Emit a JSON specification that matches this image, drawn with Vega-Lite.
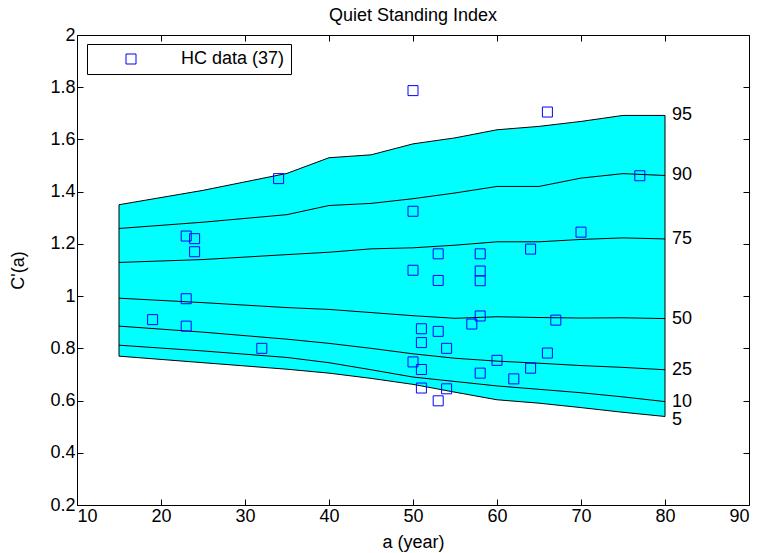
{
  "$schema": "https://vega.github.io/schema/vega-lite/v6.json",
  "width": 672,
  "height": 470,
  "autosize": "none",
  "padding": {"left": 77, "top": 35, "right": 11, "bottom": 48},
  "background": "white",
  "title": {"text": "Quiet Standing Index", "fontSize": 18, "fontWeight": "normal", "font": "Liberation Sans", "offset": 1, "color": "black"},
  "config": {
    "view": {"stroke": null},
    "font": "Liberation Sans",
    "axis": {"grid": false, "domainColor": "black", "tickColor": "black", "labelColor": "black", "titleColor": "black", "labelFont": "Liberation Sans", "titleFont": "Liberation Sans", "labelFontSize": 18, "titleFontSize": 18, "titleFontWeight": "normal", "tickSize": -6, "labelPadding": 8, "domainWidth": 1, "tickWidth": 1},
    "legend": {"orient": "none", "legendX": 10, "legendY": 9, "strokeColor": "black", "fillColor": "white", "padding": 6, "labelFontSize": 18, "labelFont": "Liberation Sans", "labelColor": "black", "symbolSize": 100, "symbolStrokeWidth": 1, "symbolOffset": 29, "labelOffset": 41}
  },
  "datasets": {
    "pct": [
      {"age": 15, "p": 5, "v": 0.770}, {"age": 25, "p": 5, "v": 0.745}, {"age": 35, "p": 5, "v": 0.720}, {"age": 40, "p": 5, "v": 0.705}, {"age": 45, "p": 5, "v": 0.685}, {"age": 50, "p": 5, "v": 0.662}, {"age": 55, "p": 5, "v": 0.632}, {"age": 60, "p": 5, "v": 0.603}, {"age": 65, "p": 5, "v": 0.590}, {"age": 70, "p": 5, "v": 0.573}, {"age": 75, "p": 5, "v": 0.555}, {"age": 80, "p": 5, "v": 0.539},
      {"age": 15, "p": 10, "v": 0.812}, {"age": 25, "p": 10, "v": 0.790}, {"age": 35, "p": 10, "v": 0.765}, {"age": 40, "p": 10, "v": 0.745}, {"age": 45, "p": 10, "v": 0.718}, {"age": 50, "p": 10, "v": 0.690}, {"age": 55, "p": 10, "v": 0.673}, {"age": 60, "p": 10, "v": 0.656}, {"age": 65, "p": 10, "v": 0.643}, {"age": 70, "p": 10, "v": 0.630}, {"age": 75, "p": 10, "v": 0.614}, {"age": 80, "p": 10, "v": 0.596},
      {"age": 15, "p": 25, "v": 0.885}, {"age": 25, "p": 25, "v": 0.862}, {"age": 35, "p": 25, "v": 0.835}, {"age": 40, "p": 25, "v": 0.819}, {"age": 45, "p": 25, "v": 0.800}, {"age": 50, "p": 25, "v": 0.779}, {"age": 55, "p": 25, "v": 0.762}, {"age": 60, "p": 25, "v": 0.751}, {"age": 65, "p": 25, "v": 0.743}, {"age": 70, "p": 25, "v": 0.734}, {"age": 75, "p": 25, "v": 0.727}, {"age": 80, "p": 25, "v": 0.718},
      {"age": 15, "p": 50, "v": 0.992}, {"age": 25, "p": 50, "v": 0.975}, {"age": 35, "p": 50, "v": 0.956}, {"age": 40, "p": 50, "v": 0.949}, {"age": 45, "p": 50, "v": 0.937}, {"age": 50, "p": 50, "v": 0.925}, {"age": 55, "p": 50, "v": 0.915}, {"age": 60, "p": 50, "v": 0.921}, {"age": 65, "p": 50, "v": 0.918}, {"age": 70, "p": 50, "v": 0.916}, {"age": 75, "p": 50, "v": 0.917}, {"age": 80, "p": 50, "v": 0.914},
      {"age": 15, "p": 75, "v": 1.129}, {"age": 25, "p": 75, "v": 1.140}, {"age": 35, "p": 75, "v": 1.159}, {"age": 40, "p": 75, "v": 1.168}, {"age": 45, "p": 75, "v": 1.181}, {"age": 50, "p": 75, "v": 1.185}, {"age": 55, "p": 75, "v": 1.195}, {"age": 60, "p": 75, "v": 1.208}, {"age": 65, "p": 75, "v": 1.208}, {"age": 70, "p": 75, "v": 1.217}, {"age": 75, "p": 75, "v": 1.223}, {"age": 80, "p": 75, "v": 1.219},
      {"age": 15, "p": 90, "v": 1.259}, {"age": 25, "p": 90, "v": 1.283}, {"age": 35, "p": 90, "v": 1.312}, {"age": 40, "p": 90, "v": 1.347}, {"age": 45, "p": 90, "v": 1.355}, {"age": 50, "p": 90, "v": 1.373}, {"age": 55, "p": 90, "v": 1.395}, {"age": 60, "p": 90, "v": 1.420}, {"age": 65, "p": 90, "v": 1.420}, {"age": 70, "p": 90, "v": 1.452}, {"age": 75, "p": 90, "v": 1.469}, {"age": 80, "p": 90, "v": 1.462},
      {"age": 15, "p": 95, "v": 1.350}, {"age": 25, "p": 95, "v": 1.405}, {"age": 35, "p": 95, "v": 1.470}, {"age": 40, "p": 95, "v": 1.530}, {"age": 45, "p": 95, "v": 1.541}, {"age": 50, "p": 95, "v": 1.583}, {"age": 55, "p": 95, "v": 1.606}, {"age": 60, "p": 95, "v": 1.637}, {"age": 65, "p": 95, "v": 1.650}, {"age": 70, "p": 95, "v": 1.669}, {"age": 75, "p": 95, "v": 1.692}, {"age": 80, "p": 95, "v": 1.692}
    ],
    "hc": [
      {"age": 34, "c": 1.45}, {"age": 23, "c": 1.23}, {"age": 24, "c": 1.22}, {"age": 24, "c": 1.17}, {"age": 23, "c": 0.99}, {"age": 19, "c": 0.91}, {"age": 23, "c": 0.885}, {"age": 32, "c": 0.80},
      {"age": 50, "c": 1.787}, {"age": 66, "c": 1.705}, {"age": 50, "c": 1.325}, {"age": 53, "c": 1.162}, {"age": 58, "c": 1.162}, {"age": 64, "c": 1.18}, {"age": 50, "c": 1.099}, {"age": 58, "c": 1.096}, {"age": 53, "c": 1.06}, {"age": 58, "c": 1.059}, {"age": 77, "c": 1.461}, {"age": 70, "c": 1.245},
      {"age": 58, "c": 0.924}, {"age": 57, "c": 0.893}, {"age": 67, "c": 0.908}, {"age": 51, "c": 0.875}, {"age": 53, "c": 0.865}, {"age": 51, "c": 0.822}, {"age": 54, "c": 0.80}, {"age": 50, "c": 0.748}, {"age": 60, "c": 0.754}, {"age": 66, "c": 0.782}, {"age": 51, "c": 0.719}, {"age": 58, "c": 0.705}, {"age": 64, "c": 0.724}, {"age": 62, "c": 0.683}, {"age": 51, "c": 0.648}, {"age": 54, "c": 0.645}, {"age": 53, "c": 0.599}
    ]
  },
  "resolve": {"axis": {"x": "independent", "y": "independent"}},
  "layer": [
    {
      "data": {"name": "pct"},
      "transform": [
        {"filter": "datum.p == 5 || datum.p == 95"},
        {"calculate": "'p' + datum.p", "as": "key"},
        {"pivot": "key", "value": "v", "groupby": ["age"]}
      ],
      "mark": {"type": "area", "fill": "#00ffff", "stroke": "black", "strokeWidth": 1, "opacity": 1},
      "encoding": {
        "x": {"field": "age", "type": "quantitative", "scale": {"domain": [10, 90], "nice": false, "zero": false}, "axis": {"orient": "bottom", "values": [10, 20, 30, 40, 50, 60, 70, 80, 90], "title": "a (year)", "titlePadding": 8}},
        "y": {"field": "p5", "type": "quantitative", "scale": {"domain": [0.2, 2], "nice": false, "zero": false}, "axis": {"orient": "left", "values": [0.2, 0.4, 0.6, 0.8, 1, 1.2, 1.4, 1.6, 1.8, 2], "format": "~g", "title": "C'(a)", "titlePadding": 22}},
        "y2": {"field": "p95"}
      }
    },
    {
      "data": {"name": "pct"},
      "transform": [{"filter": "datum.p != 5 && datum.p != 95"}],
      "mark": {"type": "line", "color": "black", "strokeWidth": 1},
      "encoding": {
        "x": {"field": "age", "type": "quantitative", "axis": {"orient": "top", "values": [10, 20, 30, 40, 50, 60, 70, 80, 90], "labels": false, "title": null}},
        "y": {"field": "v", "type": "quantitative", "axis": {"orient": "right", "values": [0.2, 0.4, 0.6, 0.8, 1, 1.2, 1.4, 1.6, 1.8, 2], "labels": false, "title": null}},
        "detail": {"field": "p"}
      }
    },
    {
      "mark": {"type": "rule", "color": "black", "strokeWidth": 3},
      "encoding": {"y": {"datum": 1, "type": "quantitative", "axis": null}}
    },
    {
      "data": {"name": "pct"},
      "transform": [{"filter": "datum.age == 80 && datum.p != 5"}],
      "mark": {"type": "text", "align": "left", "baseline": "middle", "dx": 7, "fontSize": 18, "font": "Liberation Sans", "color": "black"},
      "encoding": {
        "x": {"field": "age", "type": "quantitative", "axis": null},
        "y": {"field": "v", "type": "quantitative", "axis": null},
        "text": {"field": "p"}
      }
    },
    {
      "data": {"name": "pct"},
      "transform": [{"filter": "datum.age == 80 && datum.p == 5"}],
      "mark": {"type": "text", "align": "left", "baseline": "middle", "dx": 7, "dy": 4, "fontSize": 18, "font": "Liberation Sans", "color": "black"},
      "encoding": {
        "x": {"field": "age", "type": "quantitative", "axis": null},
        "y": {"field": "v", "type": "quantitative", "axis": null},
        "text": {"field": "p"}
      }
    },
    {
      "data": {"name": "hc"},
      "mark": {"type": "point", "shape": "square", "filled": false, "size": 100, "strokeWidth": 1, "opacity": 1},
      "encoding": {
        "x": {"field": "age", "type": "quantitative", "axis": null},
        "y": {"field": "c", "type": "quantitative", "axis": null},
        "color": {"datum": "HC data (37)", "scale": {"range": ["#0000ff"]}, "legend": {"title": null}}
      }
    }
  ]
}
